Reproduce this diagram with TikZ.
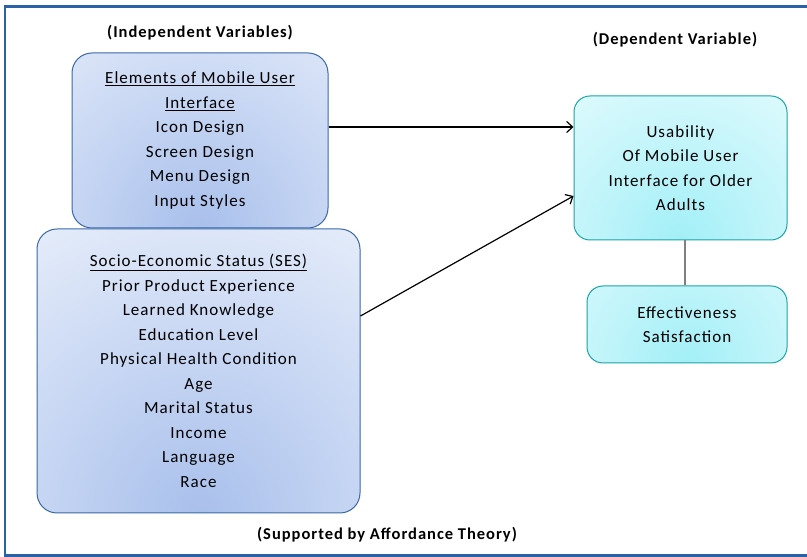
\documentclass[tikz,border=0pt]{standalone}
\usepackage{fontspec}
\setmainfont{Carlito}
\newfontfamily\spacedfont[LetterSpace=6]{Carlito}
\usetikzlibrary{arrows.meta,calc}

\definecolor{frameblue}{HTML}{2A62A8}
\definecolor{boxblue}{HTML}{3A68A8}
\definecolor{innerblue}{HTML}{A9C0EC}
\definecolor{outerblue}{HTML}{EAF0FB}
\definecolor{boxteal}{HTML}{1AA3A8}
\definecolor{innercyan}{HTML}{A3EFF7}
\definecolor{outercyan}{HTML}{E8FCFE}

\tikzset{
    varbox/.style={draw=boxblue, line width=1pt, rounded corners=20pt, align=center,
        font=\spacedfont\fontsize{17}{24.5}\selectfont,
        path picture={\shade[inner color=innerblue, outer color=outerblue]
            (path picture bounding box.south) circle (1.1*\pgfkeysvalueof{/pgf/minimum width});}},
    depbox/.style={draw=boxteal, line width=1pt, rounded corners=16pt, align=center,
        font=\spacedfont\fontsize{17}{24.5}\selectfont,
        path picture={\shade[inner color=innercyan, outer color=outercyan]
            (path picture bounding box.south) circle (1.0*\pgfkeysvalueof{/pgf/minimum width});}},
    heading/.style={font=\spacedfont\fontsize{16.5}{18}\selectfont\bfseries},
    link/.style={line width=1.2pt, -{Straight Barb[length=6pt,width=11pt]}}
}

\begin{document}
\begin{tikzpicture}[x=1pt,y=1pt]
    \useasboundingbox (0,0) rectangle (807,557);

    % Frame on three sides
    \draw[frameblue, line width=2.5pt] (807,550.5) -- (5,550.5) -- (5,1.5) -- (807,1.5);

    % Headings
    \node[heading] (indep) at (200,524) {(Independent Variables)};
    \node[heading] (dep) at (675,517) {(Dependent Variable)};
    \node[heading] (theory) at (387,22) {(Supported by Affordance Theory)};

    % Independent variables
    \node[varbox, minimum width=256pt, minimum height=175pt] (elements) at (200,416.5)
        {\underline{Elements of Mobile User}\\ \underline{Interface}\\ Icon Design\\
         Screen Design\\ Menu Design\\ Input Styles};
    \node[varbox, minimum width=323pt, minimum height=284pt] (ses) at (198.5,186)
        {\underline{Socio-Economic Status (SES)}\\ Prior Product Experience\\
         Learned Knowledge\\ Education Level\\ Physical Health Condition\\ Age\\
         Marital Status\\ Income\\ Language\\ Race};

    % Dependent variable
    \node[depbox, minimum width=213pt, minimum height=144pt] (usability) at (680.5,389)
        {Usability\\ Of Mobile User\\ Interface for Older\\ Adults};
    \node[depbox, minimum width=200pt, minimum height=77pt] (effect) at (687,232.5)
        {Effectiveness\\ Satisfaction};

    % Connectors
    \draw[link] ([yshift=13.5pt]elements.east) -- ([yshift=13.5pt]elements.east -| usability.west);
    \draw[link] ([yshift=55pt]ses.east) -- ([yshift=-28pt]usability.west);
    \draw[gray, line width=2pt] ([xshift=-2pt]effect.north) -- ([xshift=-2pt]effect.north |- usability.south);
\end{tikzpicture}
\end{document}
